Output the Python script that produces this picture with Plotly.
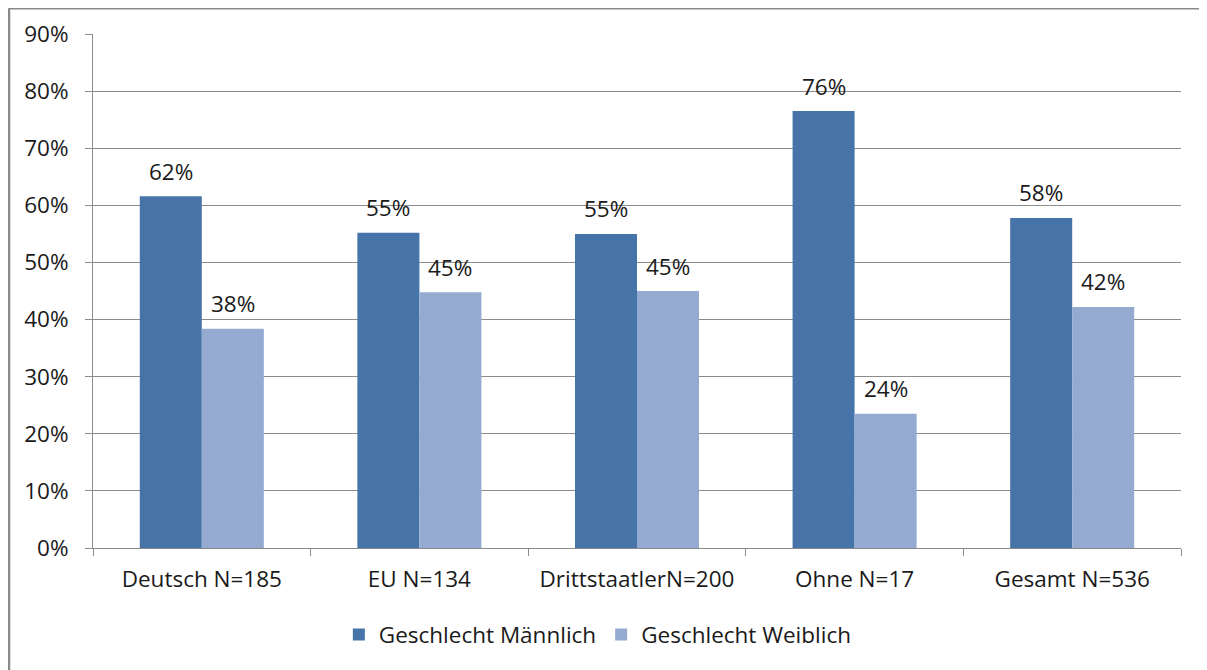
import plotly.graph_objects as go

categories = ["Deutsch N=185", "EU N=134", "DrittstaatlerN=200", "Ohne N=17", "Gesamt N=536"]
maennlich = [0.616, 0.552, 0.55, 0.765, 0.578]
weiblich = [0.384, 0.448, 0.45, 0.235, 0.422]
y_ticks = [i / 10 for i in range(10)]

FONT = "Open Sans"
FS = 22.5
TXT = "#1a1a1a"
GRID = "#8c8c8c"

fig = go.Figure()
fig.add_trace(go.Bar(x=categories, y=maennlich, name="Geschlecht Männlich",
                     marker=dict(color="#4673a8", line=dict(width=0))))
fig.add_trace(go.Bar(x=categories, y=weiblich, name="Geschlecht Weiblich",
                     marker=dict(color="#95aad1", line=dict(width=0))))

# data labels above each bar
for series, shift in [(maennlich, -31), (weiblich, 31)]:
    for cat, val in zip(categories, series):
        fig.add_annotation(x=cat, y=val, text=f"{val:.0%}", showarrow=False,
                           xshift=shift, yshift=25, font=dict(size=FS, color=TXT, family=FONT))

# chart frame (top and left edges visible)
fig.add_shape(type="line", xref="paper", yref="paper", x0=-0.0772, x1=1.05, y0=1.05, y1=1.05,
              line=dict(color="#8a8a8a", width=2.5))
fig.add_shape(type="line", xref="paper", yref="paper", x0=-0.0772, x1=-0.0772, y0=1.05, y1=-0.3,
              line=dict(color="#8a8a8a", width=2.5))

fig.update_layout(
    width=1199, height=662,
    margin=dict(l=85, r=26, t=26, b=122, autoexpand=False),
    paper_bgcolor="white", plot_bgcolor="white",
    barmode="group", bargap=0.43, bargroupgap=0,
    font=dict(family=FONT, size=FS, color=TXT),
    showlegend=True,
    legend=dict(orientation="h", x=0.464, xanchor="center", y=-0.169, yanchor="middle",
                font=dict(size=FS, color=TXT, family=FONT), itemwidth=30,
                traceorder="normal"),
)
fig.update_xaxes(showline=True, linecolor=GRID, linewidth=1, ticks="outside", tickson="boundaries",
                 ticklen=7, tickcolor=GRID, showgrid=False, automargin=False, ticklabelstandoff=11,
                 tickfont=dict(size=FS, color=TXT))
fig.update_yaxes(range=[0, 0.9], tickvals=y_ticks + [0.9], tickformat=".0%", showgrid=True,
                 gridcolor=GRID, gridwidth=1, showline=True, linecolor=GRID, linewidth=1,
                 ticks="outside", ticklen=7, tickcolor=GRID, zeroline=False, automargin=False,
                 ticklabelstandoff=12, tickfont=dict(size=FS, color=TXT))

fig.write_html("out.html")
